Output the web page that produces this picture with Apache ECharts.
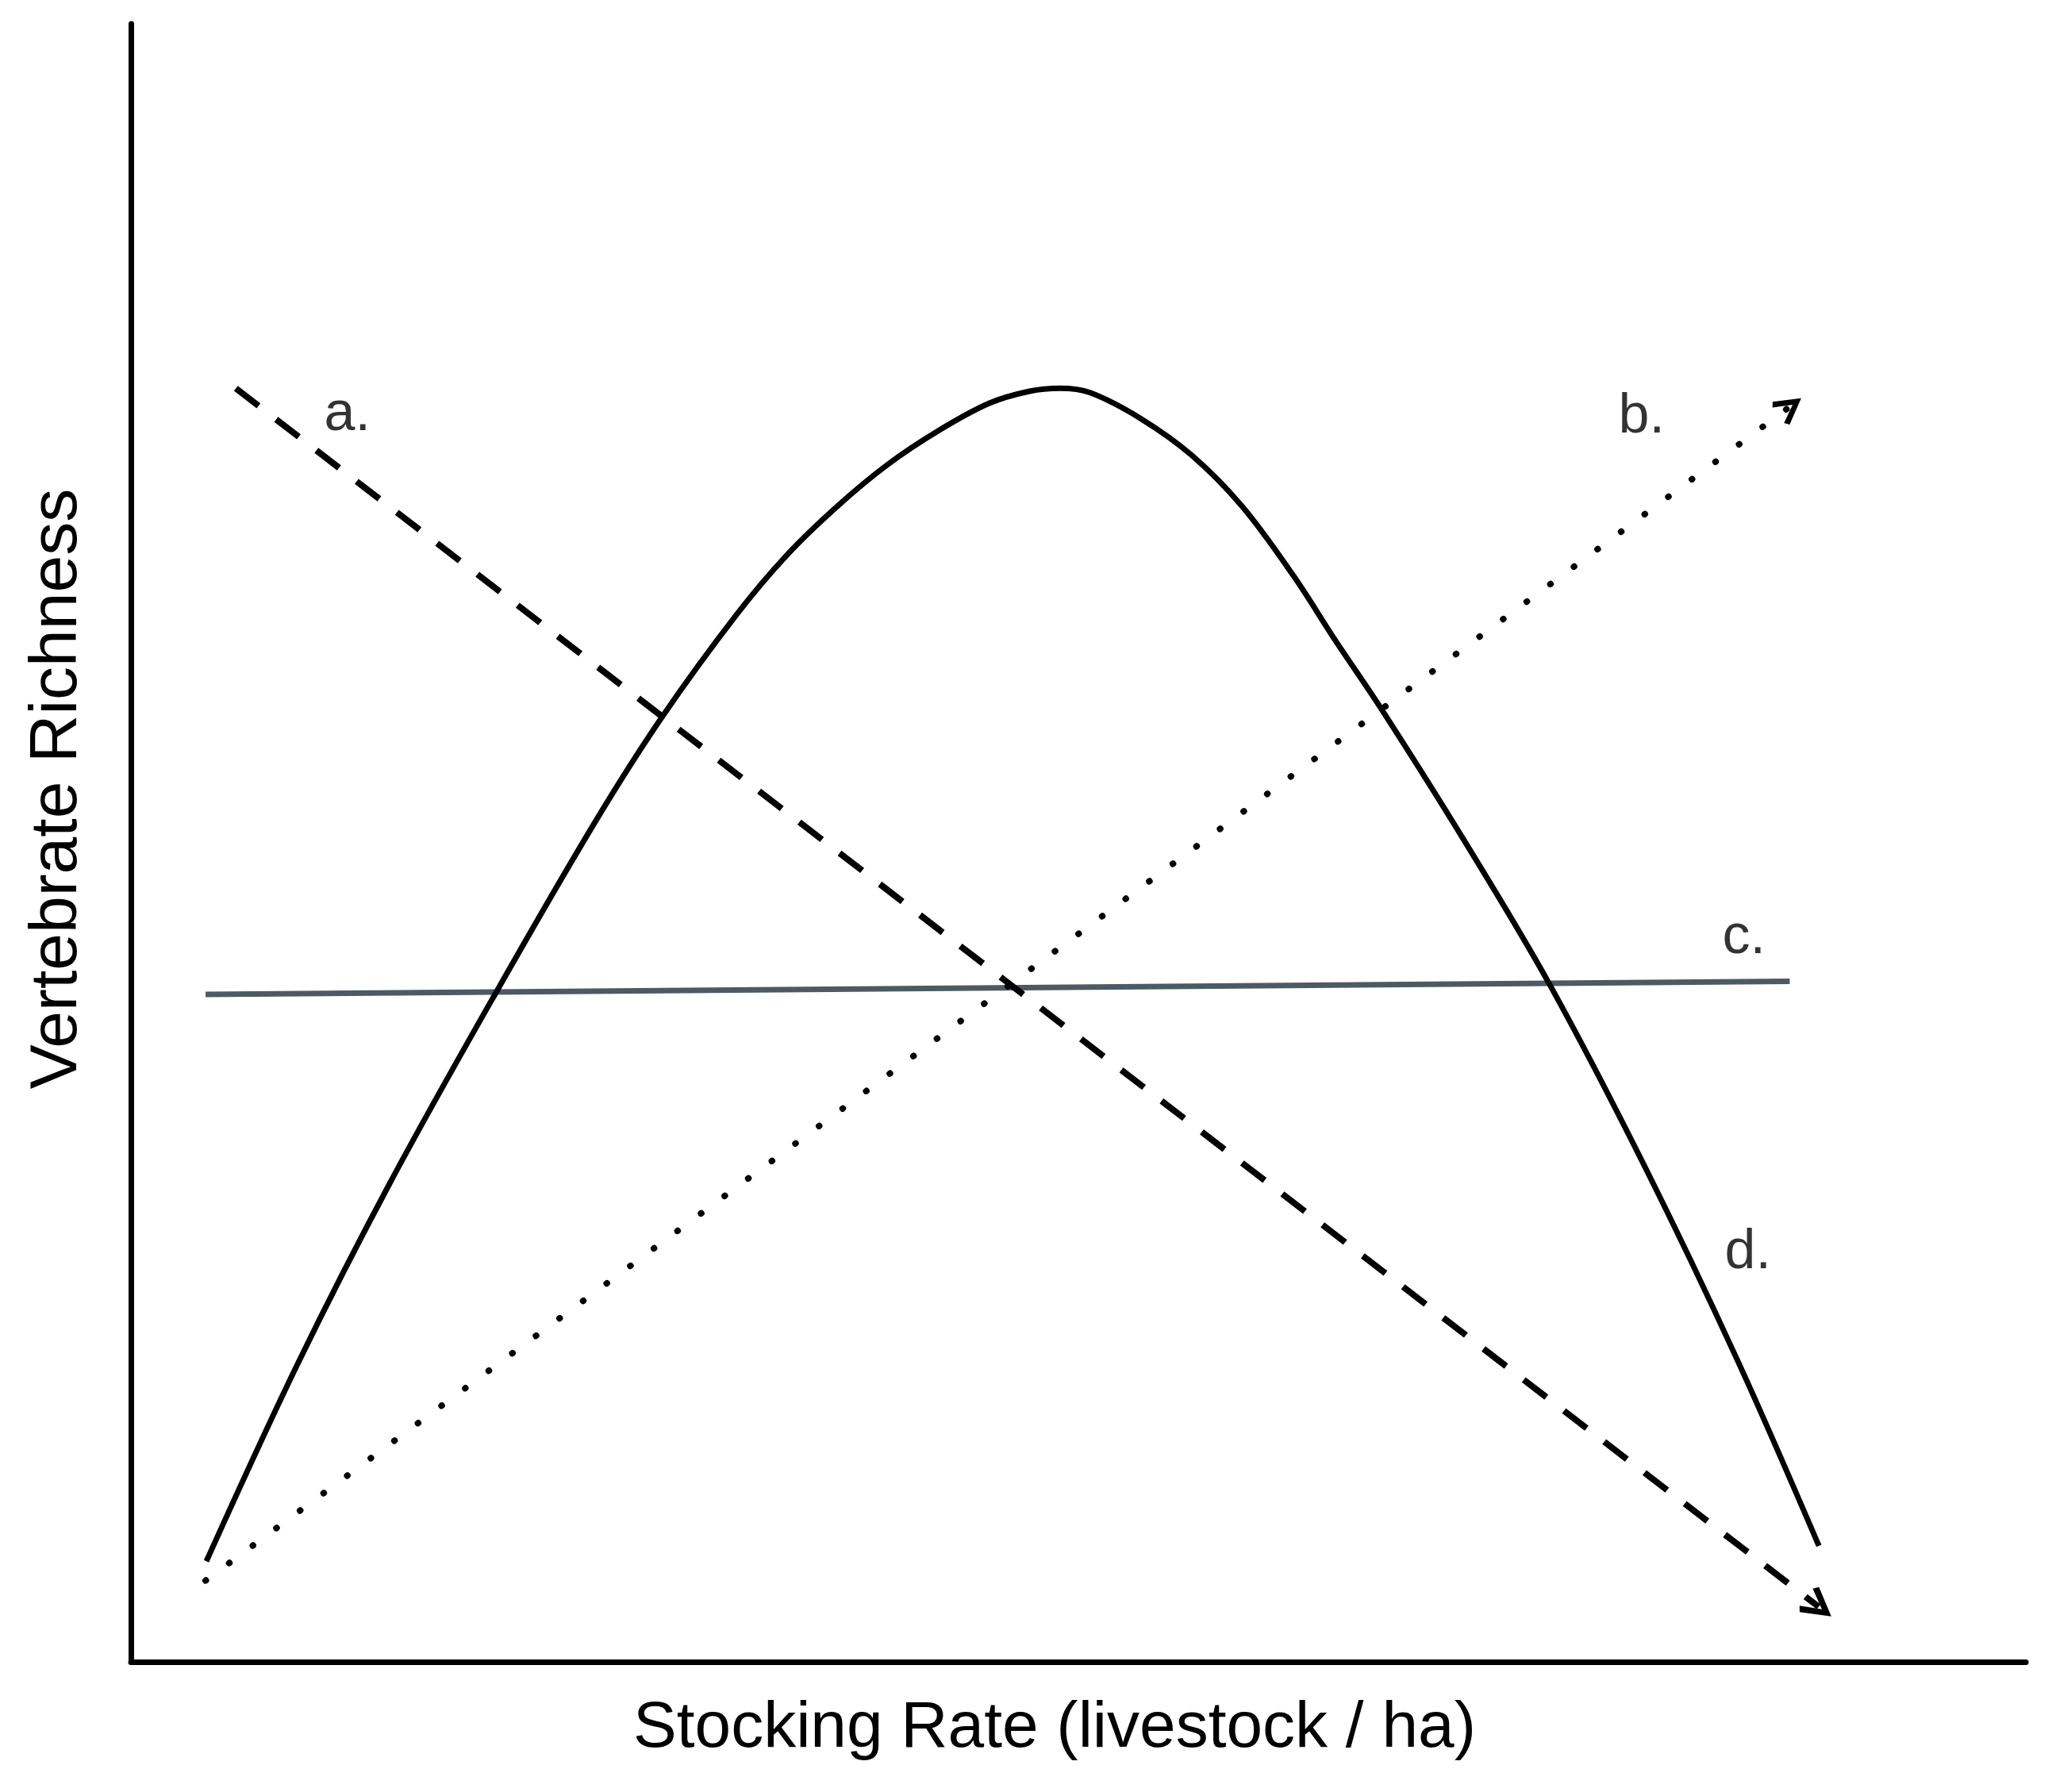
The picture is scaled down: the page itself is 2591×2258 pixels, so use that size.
<!DOCTYPE html>
<html>
<head>
<meta charset="utf-8">
<script src="https://cdn.jsdelivr.net/npm/echarts@6/dist/echarts.min.js"></script>
<style>
  html, body { margin: 0; padding: 0; background: #fff; }
  #chart { width: 2591px; height: 2258px; }
</style>
</head>
<body>
<div id="chart"></div>
<script>
// hump-shaped response (d.)
const curveD = [
  [3.98, 6.14], [8.79, 18.17], [13.7, 29.3], [19.24, 40.81], [24.53, 51.34],
  [28.02, 57.67], [31.93, 63.89], [34.6, 67.55], [37.27, 70.54], [39.94, 73.1],
  [42.61, 75.16], [45.28, 76.83], [47.42, 77.57], [49.02, 77.75], [50.62, 77.48],
  [53.29, 75.9], [55.97, 73.67], [58.64, 70.54], [61.31, 66.37], [63.6, 62.29],
  [65.99, 58.17], [70.33, 50.2], [74.89, 41.31], [79.95, 30.1], [84.75, 18.49],
  [89.08, 7.08]
];
// negative (a.), positive (b.), no response (c.)
const lineA = [[5.54, 77.74], [89.07, 3.36]];
const lineB = [[3.94, 4.96], [87.54, 76.62]];
const lineC = [[3.94, 40.75], [87.54, 41.55]];
const labelNames = ['a.', 'b.', 'c.', 'd.'];
const labelPos = [[11.42, 76.14], [79.72, 75.98], [85.12, 44.2], [85.33, 24.98]];

const chevron = 'path://M5,0 L10,8.4 L8.4,9.6 L5,3.6 L1.6,9.6 L0,8.4 Z';
const font = '"Liberation Sans", Arial, Helvetica, sans-serif';

const chart = echarts.init(document.getElementById('chart'));

const option = {
  backgroundColor: '#fff',
  animation: false,
  grid: { left: 165, right: 38, top: 30, bottom: 164, containLabel: false },
  xAxis: {
    type: 'value', min: 0, max: 100,
    name: 'Stocking Rate (livestock / ha)',
    nameLocation: 'middle', nameGap: 43,
    nameTextStyle: { fontSize: 82, color: '#000', fontFamily: font, padding: [0, 60, 0, 0] },
    axisLine: { show: true, lineStyle: { color: '#000', width: 7 } },
    axisTick: { show: false }, axisLabel: { show: false }, splitLine: { show: false }
  },
  yAxis: {
    type: 'value', min: 0, max: 100,
    name: 'Vertebrate Richness',
    nameLocation: 'middle', nameGap: 50,
    nameTextStyle: { fontSize: 84, color: '#000', fontFamily: font, padding: [0, 0, 0, 136] },
    axisLine: { show: true, lineStyle: { color: '#000', width: 7 } },
    axisTick: { show: false }, axisLabel: { show: false }, splitLine: { show: false }
  },
  series: [
    {
      name: 'd', type: 'line', data: curveD, smooth: 0.35, showSymbol: false,
      lineStyle: { color: '#000', width: 7 }, z: 3
    },
    {
      name: 'c', type: 'line', data: lineC, showSymbol: false,
      lineStyle: { color: '#4d5a62', width: 7 }, z: 2
    },
    {
      name: 'a', type: 'lines', coordinateSystem: 'cartesian2d',
      data: [{ coords: lineA }],
      symbol: ['none', chevron], symbolSize: [44, 40],
      lineStyle: { color: '#000', width: 8, type: [36, 28], opacity: 1 }, z: 4
    },
    {
      name: 'b', type: 'lines', coordinateSystem: 'cartesian2d',
      data: [{ coords: lineB }],
      symbol: ['none', chevron], symbolSize: [40, 36],
      lineStyle: { color: '#000', width: 8, type: [0.5, 36.5], cap: 'round', opacity: 1 }, z: 4
    },
    {
      name: 'labels', type: 'scatter', symbolSize: 0,
      data: labelPos.map((p, i) => ({ value: p, name: labelNames[i] })),
      label: {
        show: true, position: 'inside', formatter: '{b}',
        fontSize: 70, color: '#000', fontFamily: font
      }, z: 5
    }
  ]
};

chart.setOption(option);
</script>
</body>
</html>
